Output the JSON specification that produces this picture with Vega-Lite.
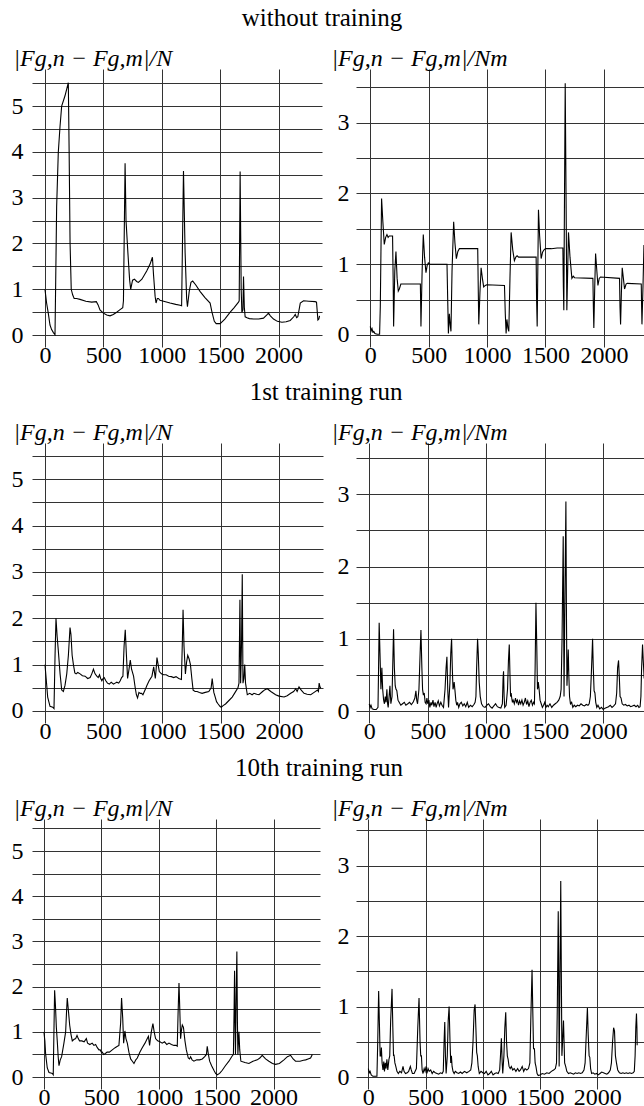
{
  "$schema": "https://vega.github.io/schema/vega-lite/v6.json",
  "padding": {"left": 11, "top": 6, "right": 0, "bottom": 12},
  "background": "white",
  "config": {
    "font": "Liberation Serif",
    "view": {"stroke": null},
    "axis": {"grid": true, "gridColor": "#333", "gridWidth": 1, "gridOpacity": 1, "domain": false, "ticks": false, "labelFont": "Liberation Serif", "labelFontSize": 24, "labelColor": "#000", "titleFont": "Liberation Serif", "titleColor": "#000", "titleFontSize": 24, "titleFontWeight": "normal", "titleFontStyle": "italic"},
    "axisY": {"labelExpr": "datum.value % 1 === 0 ? format(datum.value, 'd') : ''", "labelPadding": 9, "labelOverlap": false, "titleAngle": 0, "titleAlign": "left", "titleBaseline": "alphabetic", "titleY": -4},
    "title": {"font": "Liberation Serif", "fontSize": 25, "fontWeight": "normal", "color": "#000"},
    "line": {"color": "#000", "strokeWidth": 1.1, "clip": true}
  },
  "columns": 2,
  "spacing": {"row": 96, "column": 33},
  "bounds": "flush",
  "align": "none",
  "datasets": {
    "r1l": [{"x":0,"y":1.0},{"x":14,"y":0.7},{"x":29,"y":0.47},{"x":43,"y":0.22},{"x":57,"y":0.12},{"x":71,"y":0.06},{"x":86,"y":0.01},{"x":92,"y":1.2},{"x":100,"y":2.8},{"x":114,"y":3.98},{"x":129,"y":4.56},{"x":143,"y":5.0},{"x":171,"y":5.22},{"x":200,"y":5.51},{"x":207,"y":4.0},{"x":215,"y":2.0},{"x":225,"y":1.0},{"x":237,"y":0.88},{"x":250,"y":0.8},{"x":271,"y":0.8},{"x":300,"y":0.78},{"x":350,"y":0.74},{"x":400,"y":0.72},{"x":440,"y":0.73},{"x":455,"y":0.66},{"x":471,"y":0.55},{"x":500,"y":0.48},{"x":529,"y":0.44},{"x":557,"y":0.42},{"x":585,"y":0.45},{"x":614,"y":0.5},{"x":640,"y":0.55},{"x":666,"y":0.6},{"x":672,"y":0.75},{"x":686,"y":3.75},{"x":694,"y":2.5},{"x":710,"y":1.8},{"x":725,"y":1.2},{"x":734,"y":1.0},{"x":750,"y":1.2},{"x":766,"y":1.22},{"x":785,"y":1.17},{"x":800,"y":1.15},{"x":830,"y":1.22},{"x":871,"y":1.4},{"x":900,"y":1.55},{"x":920,"y":1.7},{"x":930,"y":1.3},{"x":943,"y":0.85},{"x":951,"y":0.7},{"x":962,"y":0.8},{"x":971,"y":0.8},{"x":985,"y":0.76},{"x":1000,"y":0.75},{"x":1071,"y":0.7},{"x":1120,"y":0.67},{"x":1157,"y":0.65},{"x":1170,"y":0.64},{"x":1186,"y":3.58},{"x":1200,"y":1.8},{"x":1213,"y":0.8},{"x":1220,"y":0.62},{"x":1235,"y":0.95},{"x":1250,"y":1.15},{"x":1265,"y":1.18},{"x":1290,"y":1.1},{"x":1329,"y":0.95},{"x":1370,"y":0.82},{"x":1414,"y":0.7},{"x":1430,"y":0.5},{"x":1450,"y":0.3},{"x":1466,"y":0.25},{"x":1500,"y":0.25},{"x":1540,"y":0.35},{"x":1586,"y":0.5},{"x":1620,"y":0.6},{"x":1657,"y":0.72},{"x":1663,"y":0.75},{"x":1671,"y":3.57},{"x":1680,"y":1.0},{"x":1686,"y":0.5},{"x":1695,"y":0.55},{"x":1700,"y":1.28},{"x":1707,"y":0.6},{"x":1714,"y":0.4},{"x":1730,"y":0.38},{"x":1750,"y":0.36},{"x":1786,"y":0.35},{"x":1830,"y":0.35},{"x":1871,"y":0.37},{"x":1900,"y":0.44},{"x":1914,"y":0.48},{"x":1930,"y":0.42},{"x":1957,"y":0.35},{"x":1990,"y":0.3},{"x":2029,"y":0.28},{"x":2065,"y":0.29},{"x":2100,"y":0.32},{"x":2130,"y":0.4},{"x":2143,"y":0.45},{"x":2155,"y":0.38},{"x":2165,"y":0.4},{"x":2186,"y":0.7},{"x":2214,"y":0.75},{"x":2260,"y":0.74},{"x":2314,"y":0.73},{"x":2325,"y":0.72},{"x":2337,"y":0.33},{"x":2345,"y":0.35},{"x":2351,"y":0.42}],
    "r1r": [{"x":0,"y":0.12},{"x":8,"y":0.06},{"x":15,"y":0.09},{"x":22,"y":0.04},{"x":30,"y":0.05},{"x":40,"y":0.02},{"x":60,"y":0.01},{"x":80,"y":0.01},{"x":86,"y":0.4},{"x":97,"y":1.93},{"x":108,"y":1.6},{"x":120,"y":1.28},{"x":132,"y":1.38},{"x":143,"y":1.42},{"x":153,"y":1.38},{"x":163,"y":1.4},{"x":191,"y":1.4},{"x":196,"y":0.8},{"x":200,"y":0.12},{"x":210,"y":0.9},{"x":220,"y":1.18},{"x":230,"y":0.8},{"x":240,"y":0.62},{"x":249,"y":0.65},{"x":262,"y":0.72},{"x":277,"y":0.72},{"x":429,"y":0.72},{"x":432,"y":0.4},{"x":434,"y":0.12},{"x":444,"y":0.9},{"x":454,"y":1.42},{"x":465,"y":1.1},{"x":477,"y":0.88},{"x":487,"y":0.98},{"x":497,"y":1.02},{"x":510,"y":1.0},{"x":657,"y":1.0},{"x":663,"y":0.5},{"x":669,"y":0.02},{"x":677,"y":0.3},{"x":684,"y":0.15},{"x":691,"y":0.05},{"x":700,"y":0.9},{"x":714,"y":1.6},{"x":725,"y":1.3},{"x":737,"y":1.08},{"x":750,"y":1.18},{"x":763,"y":1.22},{"x":920,"y":1.22},{"x":925,"y":0.6},{"x":929,"y":0.15},{"x":939,"y":0.6},{"x":949,"y":0.95},{"x":960,"y":0.8},{"x":971,"y":0.68},{"x":985,"y":0.7},{"x":997,"y":0.71},{"x":1149,"y":0.7},{"x":1156,"y":0.3},{"x":1163,"y":0.02},{"x":1170,"y":0.22},{"x":1178,"y":0.1},{"x":1186,"y":0.05},{"x":1196,"y":0.8},{"x":1206,"y":1.45},{"x":1220,"y":1.2},{"x":1234,"y":1.05},{"x":1246,"y":1.1},{"x":1257,"y":1.12},{"x":1270,"y":1.1},{"x":1420,"y":1.1},{"x":1424,"y":0.5},{"x":1429,"y":0.12},{"x":1435,"y":1.0},{"x":1440,"y":1.77},{"x":1450,"y":1.4},{"x":1463,"y":1.08},{"x":1475,"y":1.17},{"x":1486,"y":1.2},{"x":1500,"y":1.22},{"x":1550,"y":1.22},{"x":1600,"y":1.23},{"x":1649,"y":1.23},{"x":1653,"y":0.7},{"x":1657,"y":0.35},{"x":1663,"y":2.0},{"x":1669,"y":3.56},{"x":1676,"y":2.0},{"x":1683,"y":0.35},{"x":1690,"y":0.9},{"x":1697,"y":1.45},{"x":1710,"y":1.1},{"x":1726,"y":0.8},{"x":1738,"y":0.83},{"x":1749,"y":0.81},{"x":1906,"y":0.8},{"x":1910,"y":0.4},{"x":1914,"y":0.1},{"x":1922,"y":0.7},{"x":1929,"y":1.15},{"x":1940,"y":0.9},{"x":1949,"y":0.7},{"x":1960,"y":0.8},{"x":1971,"y":0.82},{"x":2134,"y":0.8},{"x":2138,"y":0.4},{"x":2143,"y":0.15},{"x":2150,"y":0.6},{"x":2157,"y":0.95},{"x":2167,"y":0.8},{"x":2177,"y":0.65},{"x":2190,"y":0.72},{"x":2200,"y":0.73},{"x":2320,"y":0.72},{"x":2323,"y":0.4},{"x":2326,"y":0.15},{"x":2335,"y":0.7},{"x":2343,"y":1.27},{"x":2360,"y":1.0}],
    "r2l": [{"x":0,"y":1.0},{"x":10,"y":0.7},{"x":23,"y":0.3},{"x":43,"y":0.1},{"x":66,"y":0.08},{"x":77,"y":0.05},{"x":86,"y":1.2},{"x":94,"y":2.0},{"x":104,"y":1.6},{"x":114,"y":1.3},{"x":129,"y":0.8},{"x":143,"y":0.45},{"x":157,"y":0.42},{"x":171,"y":0.55},{"x":186,"y":0.8},{"x":200,"y":1.2},{"x":214,"y":1.8},{"x":222,"y":1.65},{"x":232,"y":1.2},{"x":243,"y":1.0},{"x":255,"y":0.82},{"x":266,"y":0.8},{"x":280,"y":0.83},{"x":300,"y":0.8},{"x":320,"y":0.76},{"x":343,"y":0.75},{"x":365,"y":0.7},{"x":386,"y":0.72},{"x":400,"y":0.8},{"x":414,"y":0.9},{"x":428,"y":0.8},{"x":443,"y":0.75},{"x":455,"y":0.72},{"x":466,"y":0.78},{"x":476,"y":0.7},{"x":486,"y":0.65},{"x":496,"y":0.7},{"x":506,"y":0.72},{"x":520,"y":0.65},{"x":534,"y":0.6},{"x":550,"y":0.58},{"x":566,"y":0.62},{"x":586,"y":0.58},{"x":600,"y":0.6},{"x":614,"y":0.62},{"x":630,"y":0.6},{"x":643,"y":0.65},{"x":655,"y":0.72},{"x":666,"y":0.75},{"x":676,"y":1.4},{"x":686,"y":1.75},{"x":696,"y":1.2},{"x":706,"y":0.7},{"x":718,"y":0.9},{"x":729,"y":1.1},{"x":740,"y":0.9},{"x":757,"y":0.75},{"x":771,"y":0.5},{"x":781,"y":0.35},{"x":791,"y":0.28},{"x":803,"y":0.4},{"x":814,"y":0.38},{"x":825,"y":0.38},{"x":837,"y":0.35},{"x":855,"y":0.45},{"x":871,"y":0.55},{"x":890,"y":0.65},{"x":914,"y":0.75},{"x":929,"y":0.95},{"x":943,"y":0.7},{"x":950,"y":0.9},{"x":957,"y":1.15},{"x":967,"y":1.0},{"x":977,"y":0.85},{"x":995,"y":0.8},{"x":1014,"y":0.78},{"x":1035,"y":0.78},{"x":1057,"y":0.75},{"x":1080,"y":0.74},{"x":1100,"y":0.72},{"x":1120,"y":0.74},{"x":1143,"y":0.7},{"x":1166,"y":0.68},{"x":1174,"y":1.5},{"x":1180,"y":2.18},{"x":1188,"y":1.4},{"x":1200,"y":0.8},{"x":1210,"y":1.05},{"x":1220,"y":1.2},{"x":1232,"y":1.12},{"x":1243,"y":1.0},{"x":1255,"y":0.7},{"x":1266,"y":0.45},{"x":1283,"y":0.42},{"x":1300,"y":0.42},{"x":1320,"y":0.4},{"x":1343,"y":0.38},{"x":1370,"y":0.4},{"x":1400,"y":0.42},{"x":1420,"y":0.5},{"x":1429,"y":0.7},{"x":1436,"y":0.55},{"x":1443,"y":0.4},{"x":1455,"y":0.3},{"x":1466,"y":0.2},{"x":1480,"y":0.15},{"x":1495,"y":0.1},{"x":1506,"y":0.08},{"x":1525,"y":0.12},{"x":1543,"y":0.15},{"x":1570,"y":0.22},{"x":1600,"y":0.3},{"x":1625,"y":0.4},{"x":1649,"y":0.5},{"x":1658,"y":0.6},{"x":1666,"y":2.4},{"x":1672,"y":0.6},{"x":1680,"y":1.5},{"x":1686,"y":2.95},{"x":1692,"y":0.6},{"x":1700,"y":0.7},{"x":1707,"y":1.0},{"x":1714,"y":0.6},{"x":1729,"y":0.35},{"x":1750,"y":0.38},{"x":1770,"y":0.35},{"x":1786,"y":0.38},{"x":1810,"y":0.36},{"x":1829,"y":0.35},{"x":1860,"y":0.42},{"x":1880,"y":0.46},{"x":1900,"y":0.48},{"x":1930,"y":0.42},{"x":1971,"y":0.35},{"x":2000,"y":0.32},{"x":2043,"y":0.3},{"x":2070,"y":0.33},{"x":2100,"y":0.38},{"x":2125,"y":0.42},{"x":2143,"y":0.48},{"x":2155,"y":0.42},{"x":2171,"y":0.52},{"x":2190,"y":0.45},{"x":2214,"y":0.38},{"x":2240,"y":0.36},{"x":2271,"y":0.35},{"x":2300,"y":0.4},{"x":2329,"y":0.45},{"x":2337,"y":0.42},{"x":2343,"y":0.6},{"x":2352,"y":0.5},{"x":2357,"y":0.52}],
    "r2r": [{"x":0,"y":0.1},{"x":8,"y":0.05},{"x":15,"y":0.08},{"x":25,"y":0.03},{"x":40,"y":0.02},{"x":60,"y":0.02},{"x":75,"y":0.05},{"x":80,"y":0.6},{"x":85,"y":1.22},{"x":92,"y":0.8},{"x":100,"y":0.3},{"x":108,"y":0.6},{"x":115,"y":0.3},{"x":123,"y":0.15},{"x":130,"y":0.1},{"x":137,"y":0.2},{"x":144,"y":0.12},{"x":151,"y":0.3},{"x":157,"y":0.1},{"x":162,"y":0.05},{"x":170,"y":0.2},{"x":177,"y":0.35},{"x":185,"y":0.1},{"x":195,"y":0.2},{"x":202,"y":0.7},{"x":208,"y":1.13},{"x":215,"y":0.6},{"x":222,"y":0.35},{"x":229,"y":0.3},{"x":236,"y":0.28},{"x":246,"y":0.15},{"x":256,"y":0.12},{"x":270,"y":0.08},{"x":285,"y":0.1},{"x":300,"y":0.12},{"x":313,"y":0.08},{"x":330,"y":0.1},{"x":345,"y":0.12},{"x":360,"y":0.09},{"x":375,"y":0.12},{"x":390,"y":0.18},{"x":399,"y":0.28},{"x":406,"y":0.15},{"x":413,"y":0.1},{"x":425,"y":0.3},{"x":435,"y":0.8},{"x":442,"y":1.12},{"x":450,"y":0.6},{"x":456,"y":0.3},{"x":463,"y":0.22},{"x":470,"y":0.25},{"x":478,"y":0.12},{"x":486,"y":0.1},{"x":493,"y":0.18},{"x":500,"y":0.1},{"x":510,"y":0.15},{"x":518,"y":0.05},{"x":528,"y":0.12},{"x":535,"y":0.08},{"x":545,"y":0.15},{"x":553,"y":0.06},{"x":563,"y":0.12},{"x":572,"y":0.05},{"x":580,"y":0.1},{"x":590,"y":0.14},{"x":600,"y":0.07},{"x":612,"y":0.12},{"x":622,"y":0.08},{"x":635,"y":0.05},{"x":648,"y":0.3},{"x":657,"y":0.6},{"x":664,"y":0.75},{"x":671,"y":0.3},{"x":678,"y":0.05},{"x":690,"y":0.4},{"x":697,"y":0.8},{"x":704,"y":1.0},{"x":710,"y":0.6},{"x":716,"y":0.3},{"x":722,"y":0.35},{"x":726,"y":0.4},{"x":732,"y":0.3},{"x":740,"y":0.15},{"x":748,"y":0.08},{"x":755,"y":0.12},{"x":765,"y":0.05},{"x":775,"y":0.1},{"x":787,"y":0.12},{"x":800,"y":0.07},{"x":812,"y":0.1},{"x":825,"y":0.06},{"x":838,"y":0.12},{"x":850,"y":0.05},{"x":865,"y":0.08},{"x":880,"y":0.06},{"x":895,"y":0.09},{"x":905,"y":0.12},{"x":912,"y":0.2},{"x":918,"y":0.6},{"x":926,"y":1.0},{"x":932,"y":0.8},{"x":940,"y":0.4},{"x":949,"y":0.2},{"x":960,"y":0.1},{"x":975,"y":0.06},{"x":990,"y":0.05},{"x":1005,"y":0.08},{"x":1020,"y":0.1},{"x":1035,"y":0.06},{"x":1050,"y":0.04},{"x":1065,"y":0.07},{"x":1080,"y":0.1},{"x":1095,"y":0.06},{"x":1110,"y":0.05},{"x":1125,"y":0.04},{"x":1138,"y":0.1},{"x":1144,"y":0.45},{"x":1148,"y":0.55},{"x":1153,"y":0.2},{"x":1158,"y":0.05},{"x":1170,"y":0.08},{"x":1182,"y":0.3},{"x":1190,"y":0.7},{"x":1197,"y":0.92},{"x":1203,"y":0.5},{"x":1208,"y":0.2},{"x":1213,"y":0.25},{"x":1218,"y":0.18},{"x":1224,"y":0.12},{"x":1230,"y":0.15},{"x":1240,"y":0.1},{"x":1250,"y":0.18},{"x":1258,"y":0.12},{"x":1267,"y":0.15},{"x":1276,"y":0.08},{"x":1285,"y":0.14},{"x":1295,"y":0.1},{"x":1305,"y":0.15},{"x":1315,"y":0.08},{"x":1325,"y":0.12},{"x":1335,"y":0.18},{"x":1345,"y":0.09},{"x":1355,"y":0.14},{"x":1365,"y":0.06},{"x":1375,"y":0.12},{"x":1385,"y":0.15},{"x":1395,"y":0.08},{"x":1405,"y":0.12},{"x":1412,"y":0.1},{"x":1418,"y":0.6},{"x":1425,"y":1.5},{"x":1432,"y":0.9},{"x":1438,"y":0.3},{"x":1445,"y":0.4},{"x":1452,"y":0.3},{"x":1460,"y":0.15},{"x":1470,"y":0.1},{"x":1480,"y":0.05},{"x":1490,"y":0.08},{"x":1500,"y":0.12},{"x":1510,"y":0.05},{"x":1520,"y":0.08},{"x":1530,"y":0.06},{"x":1545,"y":0.1},{"x":1560,"y":0.05},{"x":1575,"y":0.08},{"x":1590,"y":0.1},{"x":1605,"y":0.12},{"x":1620,"y":0.15},{"x":1632,"y":0.2},{"x":1640,"y":0.3},{"x":1648,"y":1.0},{"x":1658,"y":2.42},{"x":1662,"y":1.2},{"x":1665,"y":0.2},{"x":1672,"y":1.5},{"x":1681,"y":2.9},{"x":1685,"y":1.5},{"x":1690,"y":0.35},{"x":1696,"y":0.6},{"x":1701,"y":0.85},{"x":1706,"y":0.5},{"x":1712,"y":0.2},{"x":1720,"y":0.1},{"x":1730,"y":0.12},{"x":1740,"y":0.05},{"x":1752,"y":0.08},{"x":1765,"y":0.06},{"x":1780,"y":0.08},{"x":1795,"y":0.07},{"x":1810,"y":0.1},{"x":1825,"y":0.08},{"x":1840,"y":0.07},{"x":1855,"y":0.09},{"x":1870,"y":0.08},{"x":1880,"y":0.1},{"x":1890,"y":0.2},{"x":1898,"y":0.5},{"x":1909,"y":1.0},{"x":1915,"y":0.6},{"x":1922,"y":0.28},{"x":1929,"y":0.25},{"x":1936,"y":0.12},{"x":1945,"y":0.05},{"x":1955,"y":0.08},{"x":1970,"y":0.03},{"x":1985,"y":0.05},{"x":2000,"y":0.02},{"x":2015,"y":0.04},{"x":2030,"y":0.05},{"x":2045,"y":0.06},{"x":2060,"y":0.08},{"x":2075,"y":0.05},{"x":2090,"y":0.07},{"x":2105,"y":0.1},{"x":2115,"y":0.25},{"x":2123,"y":0.6},{"x":2131,"y":0.7},{"x":2138,"y":0.45},{"x":2144,"y":0.2},{"x":2152,"y":0.18},{"x":2162,"y":0.1},{"x":2175,"y":0.08},{"x":2190,"y":0.09},{"x":2205,"y":0.07},{"x":2220,"y":0.08},{"x":2235,"y":0.06},{"x":2250,"y":0.07},{"x":2265,"y":0.08},{"x":2280,"y":0.06},{"x":2295,"y":0.08},{"x":2305,"y":0.05},{"x":2315,"y":0.06},{"x":2322,"y":0.2},{"x":2328,"y":0.6},{"x":2336,"y":0.92},{"x":2342,"y":0.7},{"x":2350,"y":0.45}],
    "r3l": [{"x":0,"y":1.0},{"x":8,"y":0.8},{"x":15,"y":0.5},{"x":29,"y":0.2},{"x":44,"y":0.1},{"x":60,"y":0.09},{"x":73,"y":0.08},{"x":81,"y":0.05},{"x":87,"y":1.0},{"x":93,"y":1.92},{"x":100,"y":1.6},{"x":108,"y":1.1},{"x":116,"y":0.8},{"x":124,"y":0.45},{"x":131,"y":0.25},{"x":142,"y":0.38},{"x":154,"y":0.45},{"x":164,"y":0.6},{"x":174,"y":0.75},{"x":189,"y":1.0},{"x":196,"y":1.4},{"x":203,"y":1.75},{"x":212,"y":1.5},{"x":224,"y":1.15},{"x":235,"y":0.95},{"x":247,"y":0.8},{"x":260,"y":0.83},{"x":276,"y":0.85},{"x":288,"y":0.92},{"x":299,"y":0.85},{"x":310,"y":0.8},{"x":330,"y":0.8},{"x":350,"y":0.78},{"x":369,"y":0.85},{"x":380,"y":0.75},{"x":400,"y":0.72},{"x":420,"y":0.75},{"x":435,"y":0.7},{"x":450,"y":0.72},{"x":465,"y":0.65},{"x":479,"y":0.6},{"x":490,"y":0.6},{"x":500,"y":0.55},{"x":508,"y":0.55},{"x":520,"y":0.5},{"x":535,"y":0.52},{"x":550,"y":0.55},{"x":570,"y":0.55},{"x":595,"y":0.6},{"x":620,"y":0.65},{"x":640,"y":0.68},{"x":653,"y":0.7},{"x":668,"y":1.2},{"x":676,"y":1.75},{"x":686,"y":1.3},{"x":694,"y":0.75},{"x":705,"y":1.02},{"x":714,"y":0.85},{"x":726,"y":0.75},{"x":740,"y":0.55},{"x":755,"y":0.4},{"x":770,"y":0.35},{"x":784,"y":0.3},{"x":800,"y":0.38},{"x":813,"y":0.42},{"x":835,"y":0.55},{"x":856,"y":0.65},{"x":880,"y":0.75},{"x":900,"y":0.85},{"x":910,"y":0.9},{"x":920,"y":0.7},{"x":935,"y":1.0},{"x":949,"y":1.18},{"x":960,"y":1.0},{"x":972,"y":0.85},{"x":990,"y":0.8},{"x":1010,"y":0.78},{"x":1030,"y":0.75},{"x":1050,"y":0.78},{"x":1070,"y":0.72},{"x":1089,"y":0.75},{"x":1110,"y":0.72},{"x":1132,"y":0.7},{"x":1150,"y":0.7},{"x":1161,"y":0.68},{"x":1168,"y":1.4},{"x":1176,"y":2.08},{"x":1183,"y":1.5},{"x":1190,"y":0.85},{"x":1198,"y":1.05},{"x":1205,"y":1.15},{"x":1215,"y":1.1},{"x":1228,"y":0.8},{"x":1240,"y":0.6},{"x":1257,"y":0.42},{"x":1268,"y":0.4},{"x":1277,"y":0.45},{"x":1290,"y":0.38},{"x":1306,"y":0.35},{"x":1330,"y":0.38},{"x":1355,"y":0.38},{"x":1379,"y":0.4},{"x":1400,"y":0.45},{"x":1415,"y":0.5},{"x":1422,"y":0.68},{"x":1432,"y":0.5},{"x":1443,"y":0.35},{"x":1460,"y":0.25},{"x":1480,"y":0.15},{"x":1495,"y":0.08},{"x":1509,"y":0.05},{"x":1530,"y":0.08},{"x":1553,"y":0.15},{"x":1580,"y":0.25},{"x":1611,"y":0.35},{"x":1635,"y":0.45},{"x":1650,"y":0.5},{"x":1656,"y":1.5},{"x":1660,"y":2.35},{"x":1664,"y":1.2},{"x":1668,"y":0.5},{"x":1674,"y":1.8},{"x":1680,"y":2.78},{"x":1685,"y":1.2},{"x":1689,"y":0.5},{"x":1694,"y":0.8},{"x":1698,"y":1.0},{"x":1705,"y":0.6},{"x":1715,"y":0.35},{"x":1750,"y":0.32},{"x":1785,"y":0.3},{"x":1820,"y":0.35},{"x":1858,"y":0.38},{"x":1880,"y":0.42},{"x":1901,"y":0.48},{"x":1930,"y":0.4},{"x":1959,"y":0.35},{"x":1990,"y":0.3},{"x":2017,"y":0.28},{"x":2050,"y":0.3},{"x":2090,"y":0.38},{"x":2120,"y":0.45},{"x":2148,"y":0.48},{"x":2170,"y":0.4},{"x":2191,"y":0.35},{"x":2230,"y":0.35},{"x":2260,"y":0.37},{"x":2279,"y":0.38},{"x":2300,"y":0.4},{"x":2322,"y":0.42},{"x":2337,"y":0.5}],
    "r3r": [{"x":0,"y":0.12},{"x":8,"y":0.06},{"x":15,"y":0.08},{"x":25,"y":0.03},{"x":40,"y":0.01},{"x":60,"y":0.01},{"x":75,"y":0.01},{"x":82,"y":0.5},{"x":90,"y":1.22},{"x":96,"y":0.8},{"x":103,"y":0.3},{"x":110,"y":0.3},{"x":114,"y":0.42},{"x":120,"y":0.2},{"x":128,"y":0.1},{"x":135,"y":0.22},{"x":141,"y":0.08},{"x":148,"y":0.2},{"x":155,"y":0.12},{"x":162,"y":0.25},{"x":170,"y":0.1},{"x":180,"y":0.25},{"x":187,"y":0.3},{"x":195,"y":0.8},{"x":207,"y":1.25},{"x":214,"y":0.7},{"x":220,"y":0.3},{"x":224,"y":0.32},{"x":232,"y":0.2},{"x":240,"y":0.15},{"x":250,"y":0.08},{"x":262,"y":0.05},{"x":275,"y":0.08},{"x":290,"y":0.06},{"x":303,"y":0.15},{"x":312,"y":0.08},{"x":325,"y":0.05},{"x":340,"y":0.06},{"x":352,"y":0.08},{"x":367,"y":0.15},{"x":375,"y":0.1},{"x":385,"y":0.05},{"x":400,"y":0.05},{"x":420,"y":0.12},{"x":432,"y":0.7},{"x":443,"y":1.12},{"x":452,"y":0.5},{"x":458,"y":0.3},{"x":464,"y":0.3},{"x":470,"y":0.1},{"x":478,"y":0.05},{"x":488,"y":0.12},{"x":496,"y":0.08},{"x":505,"y":0.15},{"x":512,"y":0.05},{"x":522,"y":0.12},{"x":532,"y":0.08},{"x":545,"y":0.1},{"x":558,"y":0.05},{"x":570,"y":0.08},{"x":585,"y":0.06},{"x":600,"y":0.05},{"x":615,"y":0.04},{"x":630,"y":0.06},{"x":645,"y":0.05},{"x":655,"y":0.08},{"x":662,"y":0.5},{"x":668,"y":0.78},{"x":674,"y":0.3},{"x":680,"y":0.05},{"x":690,"y":0.3},{"x":698,"y":0.8},{"x":706,"y":1.0},{"x":714,"y":0.5},{"x":720,"y":0.2},{"x":726,"y":0.3},{"x":732,"y":0.15},{"x":740,"y":0.08},{"x":750,"y":0.05},{"x":760,"y":0.08},{"x":775,"y":0.06},{"x":790,"y":0.05},{"x":805,"y":0.07},{"x":820,"y":0.05},{"x":840,"y":0.08},{"x":860,"y":0.06},{"x":880,"y":0.08},{"x":895,"y":0.1},{"x":905,"y":0.2},{"x":915,"y":0.5},{"x":925,"y":0.95},{"x":933,"y":1.03},{"x":940,"y":0.7},{"x":947,"y":0.35},{"x":953,"y":0.3},{"x":960,"y":0.15},{"x":970,"y":0.05},{"x":985,"y":0.08},{"x":1000,"y":0.06},{"x":1015,"y":0.05},{"x":1030,"y":0.08},{"x":1045,"y":0.03},{"x":1060,"y":0.05},{"x":1075,"y":0.08},{"x":1090,"y":0.03},{"x":1105,"y":0.05},{"x":1120,"y":0.06},{"x":1135,"y":0.05},{"x":1148,"y":0.1},{"x":1155,"y":0.3},{"x":1163,"y":0.55},{"x":1170,"y":0.2},{"x":1175,"y":0.05},{"x":1185,"y":0.3},{"x":1193,"y":0.7},{"x":1201,"y":0.92},{"x":1208,"y":0.5},{"x":1215,"y":0.3},{"x":1222,"y":0.25},{"x":1230,"y":0.15},{"x":1240,"y":0.12},{"x":1250,"y":0.15},{"x":1262,"y":0.1},{"x":1275,"y":0.12},{"x":1290,"y":0.08},{"x":1305,"y":0.12},{"x":1318,"y":0.08},{"x":1330,"y":0.1},{"x":1345,"y":0.15},{"x":1358,"y":0.08},{"x":1370,"y":0.12},{"x":1385,"y":0.1},{"x":1400,"y":0.12},{"x":1412,"y":0.2},{"x":1420,"y":0.8},{"x":1431,"y":1.52},{"x":1438,"y":0.9},{"x":1444,"y":0.4},{"x":1452,"y":0.4},{"x":1458,"y":0.2},{"x":1465,"y":0.15},{"x":1475,"y":0.05},{"x":1485,"y":0.02},{"x":1500,"y":0.03},{"x":1520,"y":0.05},{"x":1540,"y":0.04},{"x":1560,"y":0.06},{"x":1580,"y":0.05},{"x":1600,"y":0.08},{"x":1620,"y":0.1},{"x":1635,"y":0.12},{"x":1645,"y":0.2},{"x":1652,"y":1.0},{"x":1660,"y":2.35},{"x":1664,"y":1.5},{"x":1668,"y":0.15},{"x":1674,"y":1.2},{"x":1682,"y":2.78},{"x":1687,"y":1.5},{"x":1692,"y":0.3},{"x":1698,"y":0.5},{"x":1706,"y":0.8},{"x":1711,"y":0.5},{"x":1716,"y":0.2},{"x":1725,"y":0.15},{"x":1735,"y":0.08},{"x":1750,"y":0.05},{"x":1765,"y":0.06},{"x":1780,"y":0.05},{"x":1795,"y":0.04},{"x":1810,"y":0.06},{"x":1825,"y":0.05},{"x":1840,"y":0.06},{"x":1855,"y":0.05},{"x":1870,"y":0.06},{"x":1885,"y":0.1},{"x":1895,"y":0.2},{"x":1905,"y":0.6},{"x":1915,"y":0.98},{"x":1922,"y":0.6},{"x":1930,"y":0.3},{"x":1936,"y":0.28},{"x":1943,"y":0.12},{"x":1952,"y":0.05},{"x":1965,"y":0.06},{"x":1980,"y":0.04},{"x":1995,"y":0.05},{"x":2010,"y":0.03},{"x":2025,"y":0.05},{"x":2040,"y":0.07},{"x":2055,"y":0.06},{"x":2070,"y":0.05},{"x":2085,"y":0.04},{"x":2100,"y":0.06},{"x":2115,"y":0.1},{"x":2125,"y":0.2},{"x":2135,"y":0.5},{"x":2144,"y":0.7},{"x":2152,"y":0.65},{"x":2160,"y":0.3},{"x":2169,"y":0.2},{"x":2180,"y":0.1},{"x":2195,"y":0.06},{"x":2210,"y":0.05},{"x":2225,"y":0.06},{"x":2240,"y":0.05},{"x":2255,"y":0.06},{"x":2270,"y":0.05},{"x":2285,"y":0.06},{"x":2300,"y":0.05},{"x":2315,"y":0.06},{"x":2325,"y":0.08},{"x":2332,"y":0.3},{"x":2338,"y":0.7},{"x":2344,"y":0.9},{"x":2348,"y":0.7},{"x":2350,"y":0.45}]
  },
  "concat": [
    {
      "width": 290, "height": 278,
      "data": {"name": "r1l"},
      "title": {"text": "without training", "anchor": "end", "frame": "group", "align": "center", "dx": 0, "offset": 15},
      "mark": {"type": "line"},
      "encoding": {
        "x": {"field": "x", "type": "quantitative", "scale": {"domain": [-111, 2372], "nice": false, "zero": false}, "axis": {"values": [0, 500, 1000, 1500, 2000], "format": "d", "labelPadding": -4, "labelFlush": false, "labelOverlap": false, "title": null}},
        "y": {"field": "y", "type": "quantitative", "scale": {"domain": [-0.26, 5.81], "nice": false, "zero": false}, "axis": {"values": [0, 0.5, 1, 1.5, 2, 2.5, 3, 3.5, 4, 4.5, 5, 5.5], "title": "|Fg,n − Fg,m|/N", "titleX": -19}}
      }
    },
    {
      "width": 289, "height": 278,
      "data": {"name": "r1r"},
      "mark": {"type": "line"},
      "encoding": {
        "x": {"field": "x", "type": "quantitative", "scale": {"domain": [-122, 2352], "nice": false, "zero": false}, "axis": {"values": [0, 500, 1000, 1500, 2000], "format": "d", "labelPadding": -4, "labelFlush": false, "labelOverlap": false, "title": null}},
        "y": {"field": "y", "type": "quantitative", "scale": {"domain": [-0.17, 3.76], "nice": false, "zero": false}, "axis": {"values": [0, 0.5, 1, 1.5, 2, 2.5, 3, 3.5], "title": "|Fg,n − Fg,m|/Nm", "titleX": -25, "labelPadding": 7}}
      }
    },
    {
      "width": 291, "height": 280,
      "data": {"name": "r2l"},
      "title": {"text": "1st training run", "anchor": "end", "frame": "group", "align": "center", "dx": 3, "offset": 15},
      "mark": {"type": "line"},
      "encoding": {
        "x": {"field": "x", "type": "quantitative", "scale": {"domain": [-111, 2376], "nice": false, "zero": false}, "axis": {"values": [0, 500, 1000, 1500, 2000], "format": "d", "labelPadding": -4, "labelFlush": false, "labelOverlap": false, "title": null}},
        "y": {"field": "y", "type": "quantitative", "scale": {"domain": [-0.26, 5.78], "nice": false, "zero": false}, "axis": {"values": [0, 0.5, 1, 1.5, 2, 2.5, 3, 3.5, 4, 4.5, 5, 5.5], "title": "|Fg,n − Fg,m|/N", "titleX": -19}}
      }
    },
    {
      "width": 289, "height": 280,
      "data": {"name": "r2r"},
      "mark": {"type": "line"},
      "encoding": {
        "x": {"field": "x", "type": "quantitative", "scale": {"domain": [-113, 2357], "nice": false, "zero": false}, "axis": {"values": [0, 500, 1000, 1500, 2000], "format": "d", "labelPadding": -4, "labelFlush": false, "labelOverlap": false, "title": null}},
        "y": {"field": "y", "type": "quantitative", "scale": {"domain": [-0.166, 3.71], "nice": false, "zero": false}, "axis": {"values": [0, 0.5, 1, 1.5, 2, 2.5, 3, 3.5], "title": "|Fg,n − Fg,m|/Nm", "titleX": -25, "labelPadding": 7}}
      }
    },
    {
      "width": 288, "height": 270,
      "data": {"name": "r3l"},
      "title": {"text": "10th training run", "anchor": "end", "frame": "group", "align": "center", "dx": -1, "offset": 15},
      "mark": {"type": "line"},
      "encoding": {
        "x": {"field": "x", "type": "quantitative", "scale": {"domain": [-104, 2404], "nice": false, "zero": false}, "axis": {"values": [0, 500, 1000, 1500, 2000], "format": "d", "labelPadding": -4, "labelFlush": false, "labelOverlap": false, "title": null}},
        "y": {"field": "y", "type": "quantitative", "scale": {"domain": [-0.265, 5.71], "nice": false, "zero": false}, "axis": {"values": [0, 0.5, 1, 1.5, 2, 2.5, 3, 3.5, 4, 4.5, 5, 5.5], "title": "|Fg,n − Fg,m|/N", "titleX": -19}}
      }
    },
    {
      "width": 291, "height": 270,
      "data": {"name": "r3r"},
      "mark": {"type": "line"},
      "encoding": {
        "x": {"field": "x", "type": "quantitative", "scale": {"domain": [-108, 2436], "nice": false, "zero": false}, "axis": {"values": [0, 500, 1000, 1500, 2000], "format": "d", "labelPadding": -4, "labelFlush": false, "labelOverlap": false, "title": null}},
        "y": {"field": "y", "type": "quantitative", "scale": {"domain": [-0.17, 3.66], "nice": false, "zero": false}, "axis": {"values": [0, 0.5, 1, 1.5, 2, 2.5, 3, 3.5], "title": "|Fg,n − Fg,m|/Nm", "titleX": -25, "labelPadding": 7}}
      }
    }
  ]
}
